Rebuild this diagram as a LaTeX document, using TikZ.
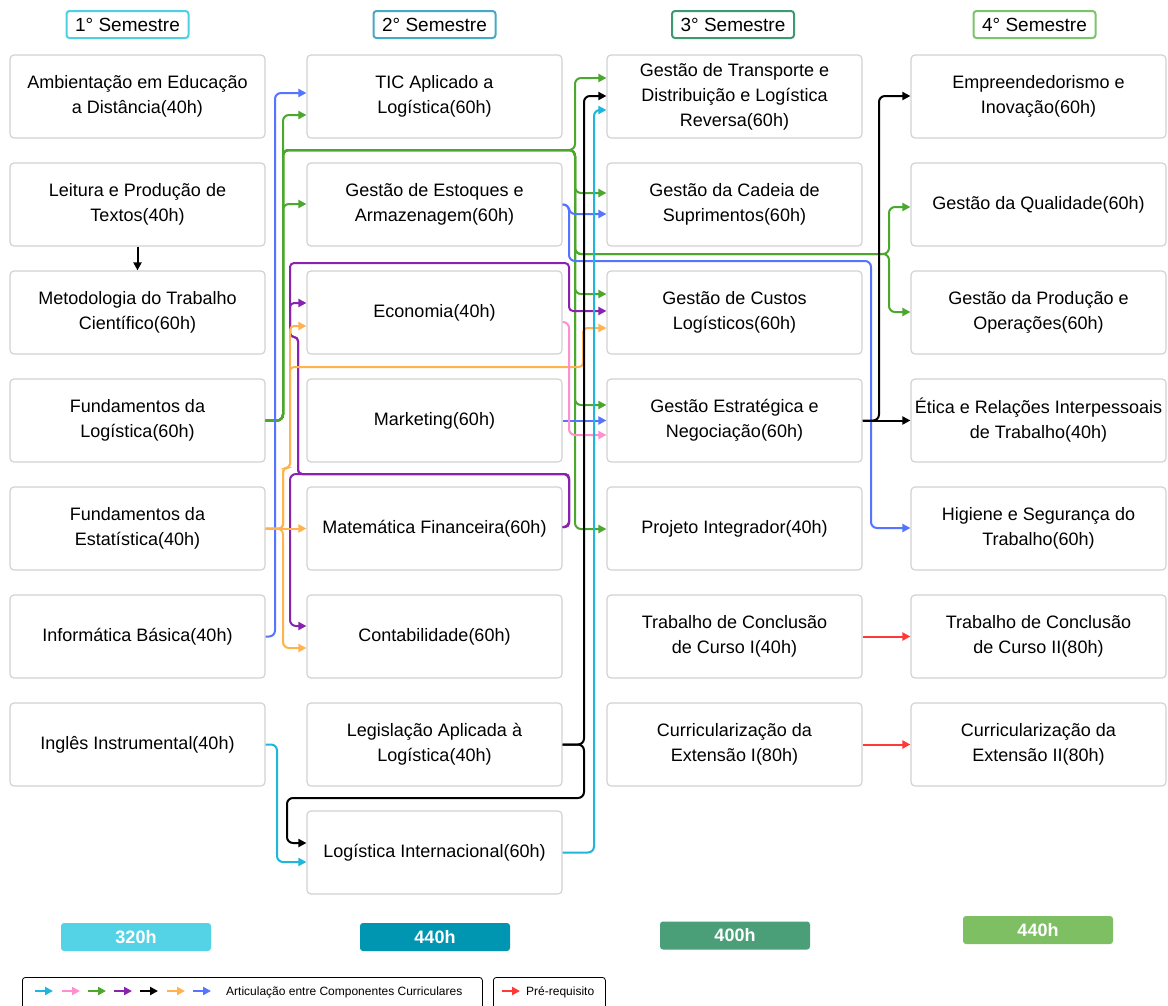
\documentclass[tikz,border=0pt]{standalone}
\usepackage{fontspec}
\setmainfont{Liberation Sans}
\usetikzlibrary{positioning,arrows.meta}

\definecolor{lkcyan}{HTML}{1EB6DC}
\definecolor{lkpink}{HTML}{FF8FCF}
\definecolor{lkgreen}{HTML}{4CA82C}
\definecolor{lkpurple}{HTML}{8A22B0}
\definecolor{lkorange}{HTML}{FFB24E}
\definecolor{lkblue}{HTML}{5675FF}
\definecolor{lkred}{HTML}{FF3838}
\definecolor{boxgray}{HTML}{D2D2D2}
\definecolor{semone}{HTML}{4DD0E1}
\definecolor{semtwo}{HTML}{45A8C4}
\definecolor{semthree}{HTML}{3D9A70}
\definecolor{semfour}{HTML}{7CC46A}
\definecolor{barone}{HTML}{55D3E6}
\definecolor{bartwo}{HTML}{0095B0}
\definecolor{barthree}{HTML}{4A9E78}
\definecolor{barfour}{HTML}{7FBF63}

\tikzset{
  course/.style={rectangle, draw=boxgray, line width=1.2pt, rounded corners=4pt, fill=white,
    minimum width=255pt, minimum height=83pt, inner sep=2pt, align=center,
    font=\fontsize{18}{25}\selectfont},
  semtitle/.style={rectangle, line width=2pt, rounded corners=3pt, fill=white,
    minimum width=122pt, minimum height=27pt, inner sep=0pt, font=\fontsize{19}{22}\selectfont},
  hoursbar/.style={rectangle, rounded corners=3pt, minimum width=150pt, minimum height=28pt,
    inner sep=0pt, text=white, font=\fontsize{18}{20}\selectfont\bfseries},
  artic/.style={line width=2pt, rounded corners=6pt, -{Triangle[length=8pt,width=8pt]}},
  legbox/.style={rectangle, draw, line width=0.8pt, rounded corners=3pt, anchor=north west, inner sep=0pt}
}

\begin{document}
\begin{tikzpicture}[x=1pt, y=-1pt, node distance=23.8pt]
  \fill[white] (0,0) rectangle (1168,1005);
  \useasboundingbox (0,0) rectangle (1168,1005);

  % semester titles
  \node (s1) [semtitle, draw=semone] at (127.5,24.5) {1° Semestre};
  \node (s2) [semtitle, draw=semtwo] at (434.5,24.5) {2° Semestre};
  \node (s3) [semtitle, draw=semthree] at (733,24.5) {3° Semestre};
  \node (s4) [semtitle, draw=semfour] at (1034.5,24.5) {4° Semestre};

  % 1st semester
  \node (amb) [course] at (137.5,96.5) {Ambientação em Educação\\a Distância(40h)};
  \node (lei) [course, below=of amb] {Leitura e Produção de\\Textos(40h)};
  \node (met) [course, below=of lei] {Metodologia do Trabalho\\Científico(60h)};
  \node (flog) [course, below=of met] {Fundamentos da\\Logística(60h)};
  \node (fest) [course, below=of flog] {Fundamentos da\\Estatística(40h)};
  \node (inf) [course, below=of fest] {Informática Básica(40h)};
  \node (ing) [course, below=of inf] {Inglês Instrumental(40h)};

  % 2nd semester
  \node (tic) [course, right=40.8pt of amb] {TIC Aplicado a\\Logística(60h)};
  \node (est) [course, below=of tic] {Gestão de Estoques e\\Armazenagem(60h)};
  \node (eco) [course, below=of est] {Economia(40h)};
  \node (mkt) [course, below=of eco] {Marketing(60h)};
  \node (mat) [course, below=of mkt] {Matemática Financeira(60h)};
  \node (con) [course, below=of mat] {Contabilidade(60h)};
  \node (leg) [course, below=of con] {Legislação Aplicada à\\Logística(40h)};
  \node (lint) [course, below=of leg] {Logística Internacional(60h)};

  % 3rd semester
  \node (tra) [course, right=43.8pt of tic] {Gestão de Transporte e\\Distribuição e Logística\\Reversa(60h)};
  \node (cad) [course, below=of tra] {Gestão da Cadeia de\\Suprimentos(60h)};
  \node (cus) [course, below=of cad] {Gestão de Custos\\Logísticos(60h)};
  \node (neg) [course, below=of cus] {Gestão Estratégica e\\Negociação(60h)};
  \node (pin) [course, below=of neg] {Projeto Integrador(40h)};
  \node (tcc1) [course, below=of pin] {Trabalho de Conclusão\\de Curso I(40h)};
  \node (cur1) [course, below=of tcc1] {Curricularização da\\Extensão I(80h)};

  % 4th semester
  \node (emp) [course, right=47.8pt of tra] {Empreendedorismo e\\Inovação(60h)};
  \node (qua) [course, below=of emp] {Gestão da Qualidade(60h)};
  \node (pro) [course, below=of qua] {Gestão da Produção e\\Operações(60h)};
  \node (eti) [course, below=of pro] {Ética e Relações Interpessoais\\de Trabalho(40h)};
  \node (hig) [course, below=of eti] {Higiene e Segurança do\\Trabalho(60h)};
  \node (tcc2) [course, below=of hig] {Trabalho de Conclusão\\de Curso II(80h)};
  \node (cur2) [course, below=of tcc2] {Curricularização da\\Extensão II(80h)};

  % hours per semester
  \node (h1) [hoursbar, fill=barone] at (136,937) {320h};
  \node (h2) [hoursbar, fill=bartwo] at (435,937) {440h};
  \node (h3) [hoursbar, fill=barthree] at (735,935.5) {400h};
  \node (h4) [hoursbar, fill=barfour] at (1038,930) {440h};

  % pre-requisite
  \draw[artic, black] (lei.south) -- (met.north);
  \draw[artic, lkred] (tcc1.east) -- (tcc2.west |- tcc1.east);
  \draw[artic, lkred] (cur1.east) -- (cur2.west |- cur1.east);

  % green
  \draw[artic, lkgreen] (flog.east) -| (283,115) -- (tic.west |- 0,115);
  \draw[artic, lkgreen] (flog.east) -| (283,204) -- (est.west |- 0,204);
  \draw[artic, lkgreen] (flog.east) -| (283,150) -- (575,150) |- (tra.west |- 0,78);
  \draw[artic, lkgreen] (flog.east) -| (283,150) -- (575,150) |- (cad.west |- 0,193);
  \draw[artic, lkgreen] (flog.east) -| (283,150) -- (575,150) |- (cus.west |- 0,294);
  \draw[artic, lkgreen] (flog.east) -| (283,150) -- (575,150) |- (neg.west |- 0,405);
  \draw[artic, lkgreen] (flog.east) -| (283,150) -- (575,150) |- (pin.west |- 0,529);
  \draw[artic, lkgreen] (flog.east) -| (283,150) -- (575,150) |- (889,254) |- (qua.west |- 0,207);
  \draw[artic, lkgreen] (flog.east) -| (283,150) -- (575,150) |- (889,254) |- (pro.west |- 0,312);

  % blue
  \draw[artic, lkblue] (inf.east) -| (275,93) -- (tic.west |- 0,93);
  \draw[artic, lkblue] (est.east) -| (569,214) -- (cad.west |- 0,214);
  \draw[artic, lkblue] (est.east) -| (569,261) -- (871,261) |- (hig.west |- 0,528);
  \draw[artic, lkblue] (mkt.east) -- (neg.west |- mkt.east);

  % purple
  \draw[artic, lkpurple, rounded corners=4pt] (mat.east |- 0,527) -| (569,474) -- (298,474) |- (290,337) |- (eco.west |- 0,303);
  \draw[artic, lkpurple, rounded corners=4pt] (mat.east |- 0,527) -| (569,474) -- (298,474) |- (290,337) -- (290,263) -| (569,311) -- (cus.west |- 0,311);
  \draw[artic, lkpurple] (mat.east |- 0,527) -| (569,474) -- (290,474) |- (con.west |- 0,626);

  % orange
  \draw[artic, lkorange] (fest.east) -- (mat.west);
  \draw[artic, lkorange] (fest.east) -| (283,648) -- (con.west |- 0,648);
  \draw[artic, lkorange, rounded corners=4pt] (fest.east) -| (283,476) |- (290,468) |- (eco.west |- 0,326);
  \draw[artic, lkorange, rounded corners=4pt] (fest.east) -| (283,476) |- (290,468) |- (583,367) |- (cus.west |- 0,328);

  % pink
  \draw[artic, lkpink] (eco.east |- 0,322) -| (569,435) -- (neg.west |- 0,435);

  % cyan
  \draw[artic, lkcyan] (ing.east) -| (277,862) -- (lint.west |- 0,862);
  \draw[artic, lkcyan] (lint.east) -| (594,110) -- (tra.west |- 0,110);

  % black
  \draw[artic, black] (leg.east) -| (584,96) -- (tra.west |- 0,96);
  \draw[artic, black] (leg.east) -| (584,798) -- (287,798) |- (lint.west |- 0,843);
  \draw[artic, black] (neg.east) -- (eti.west |- neg.east);
  \draw[artic, black] (neg.east) -| (879,96) -- (emp.west |- 0,96);

  % legend
  \node (lgA) [legbox, minimum width=460pt, minimum height=40pt] at (22,977) {};
  \node (lgB) [legbox, minimum width=112pt, minimum height=40pt] at (493,977) {};
  \coordinate (la1) at (35,991);  \coordinate (lb1) at (53,991);
  \coordinate (la2) at (62,991);  \coordinate (lb2) at (80,991);
  \coordinate (la3) at (88,991);  \coordinate (lb3) at (106,991);
  \coordinate (la4) at (114,991); \coordinate (lb4) at (132,991);
  \coordinate (la5) at (140,991); \coordinate (lb5) at (158,991);
  \coordinate (la6) at (167,991); \coordinate (lb6) at (185,991);
  \coordinate (la7) at (193,991); \coordinate (lb7) at (211,991);
  \coordinate (la8) at (502,991); \coordinate (lb8) at (520,991);
  \draw[artic, lkcyan] (la1) -- (lb1);
  \draw[artic, lkpink] (la2) -- (lb2);
  \draw[artic, lkgreen] (la3) -- (lb3);
  \draw[artic, lkpurple] (la4) -- (lb4);
  \draw[artic, black] (la5) -- (lb5);
  \draw[artic, lkorange] (la6) -- (lb6);
  \draw[artic, lkblue] (la7) -- (lb7);
  \draw[artic, lkred] (la8) -- (lb8);
  \node (lgtxtA) [anchor=base west, inner sep=0pt, font=\fontsize{12}{14}\selectfont] at (226,995.5) {Articulação entre Componentes Curriculares};
  \node (lgtxtB) [anchor=base west, inner sep=0pt, font=\fontsize{12}{14}\selectfont] at (526,995.5) {Pré-requisito};
\end{tikzpicture}
\end{document}
